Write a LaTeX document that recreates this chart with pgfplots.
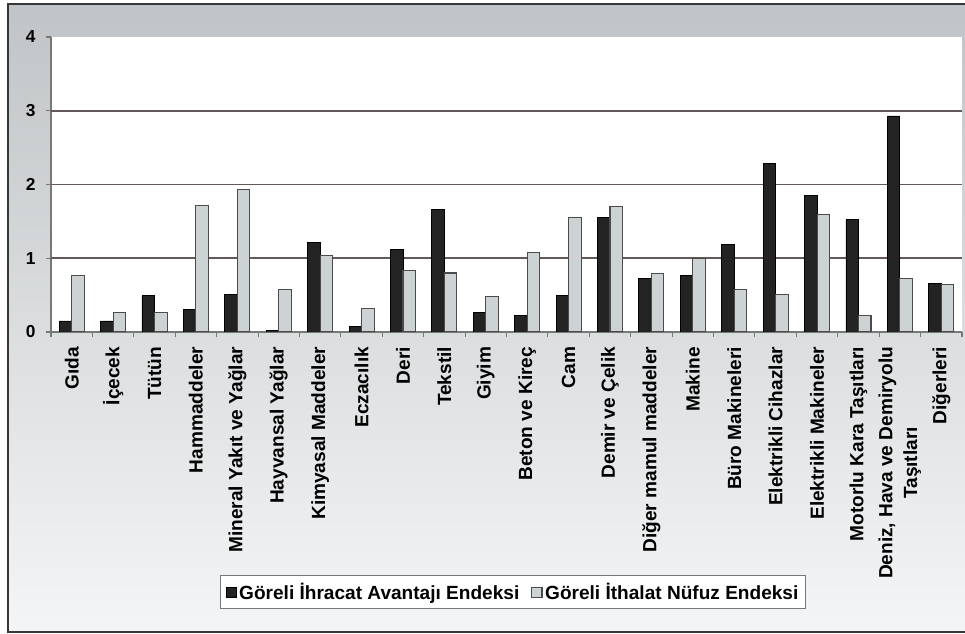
\documentclass[border=0pt]{standalone}
\usepackage{pgfplots}
\pgfplotsset{compat=1.18}
\usepackage{pgfplotstable}
\usepackage{fontspec}
\setmainfont{Liberation Sans}
\definecolor{bgtop}{RGB}{192,196,198}
\definecolor{bgbot}{RGB}{244,245,246}
\definecolor{framec}{RGB}{55,55,55}
\definecolor{gridc}{RGB}{100,88,88}
\definecolor{axisc}{RGB}{120,120,120}
\definecolor{darkbar}{RGB}{35,35,35}
\definecolor{lightbar}{RGB}{205,210,213}
\definecolor{lightedge}{RGB}{75,75,75}
\pgfplotstableread{
x y
0 0.15
1 0.15
2 0.49
3 0.30
4 0.51
5 0.02
6 1.22
7 0.07
8 1.12
9 1.66
10 0.27
11 0.23
12 0.50
13 1.55
14 0.72
15 0.77
16 1.19
17 2.28
18 1.85
19 1.52
20 2.93
21 0.66
}\ihracat
\pgfplotstableread{
x y
0 0.76
1 0.26
2 0.27
3 1.72
4 1.93
5 0.58
6 1.04
7 0.32
8 0.83
9 0.80
10 0.48
11 1.08
12 1.55
13 1.70
14 0.79
15 1.00
16 0.57
17 0.51
18 1.59
19 0.22
20 0.73
21 0.64
}\ithalat
\begin{document}
\begin{tikzpicture}
\useasboundingbox (0,0) rectangle (723.75pt,475.5pt);
\fill[white] (0,0) rectangle (723.75pt,475.5pt);
\begin{scope}
\clip (0,0) rectangle (723.75pt,475.5pt);
\shade[top color=bgtop, bottom color=bgbot] (6pt,1.5pt) rectangle (730pt,472.5pt);
\draw[framec, line width=2.2pt] (6pt,1.5pt) rectangle (730pt,472.5pt);
\end{scope}
\begin{axis}[
  at={(38.25pt,226.5pt)}, anchor=south west,
  scale only axis, width=683.25pt, height=221.25pt,
  xmin=-0.5, xmax=21.5, ymin=0, ymax=4,
  ybar=0pt, bar width=9.4pt,
  axis background/.style={fill=white},
  axis x line*=bottom, axis y line*=left,
  axis line style={draw=axisc, line width=1pt, -},
  tick align=outside,
  tick style={draw=axisc, line width=0.8pt},
  xtick={0,...,21},
  major x tick style={draw=none},
  minor xtick={-0.5,0.5,...,21.5},
  minor tick length=4pt,
  major tick length=4pt,
  xticklabels={Gıda,İçecek,Tütün,Hammaddeler,Mineral Yakıt ve Yağlar,Hayvansal Yağlar,Kimyasal Maddeler,Eczacılık,Deri,Tekstil,Giyim,Beton ve Kireç,Cam,Demir ve Çelik,Diğer mamul maddeler,Makine,Büro Makineleri,Elektrikli Cihazlar,Elektrikli Makineler,Motorlu Kara Taşıtları,{Deniz, Hava ve Demiryolu\\Taşıtları},Diğerleri},
  x tick label style={rotate=90, anchor=east, align=center, font=\bfseries\fontsize{14.3}{18.5}\selectfont, inner sep=1pt},
  xticklabel shift=6pt,
  ytick={0,1,2,3,4},
  y tick label style={font=\bfseries\fontsize{13}{14}\selectfont, /pgf/number format/assume math mode=true},
  yticklabel shift=4pt,
  extra y ticks={1,2,3},
  extra y tick labels={},
  extra y tick style={grid=major, major tick length=0pt},
  grid style={draw=gridc, line width=1.2pt},
  legend columns=2,
  legend style={at={(0.5075,-0.825)}, anchor=north, draw=axisc, line width=0.8pt, fill=white,
    font=\bfseries\fontsize{14.3}{16}\selectfont, inner sep=3.5pt,
    /tikz/every even column/.append style={column sep=7pt}},
  legend image code/.code={\draw[#1] (0pt,-3.8pt) rectangle (7.6pt,3.8pt);},
]
\addplot[fill=darkbar, draw=black, line width=0.6pt] table[x=x,y=y] {\ihracat};
\addlegendentry{Göreli İhracat Avantajı Endeksi}
\addplot[fill=lightbar, draw=lightedge, line width=0.8pt] table[x=x,y=y] {\ithalat};
\addlegendentry{Göreli İthalat Nüfuz Endeksi}
\end{axis}
\end{tikzpicture}
\end{document}
